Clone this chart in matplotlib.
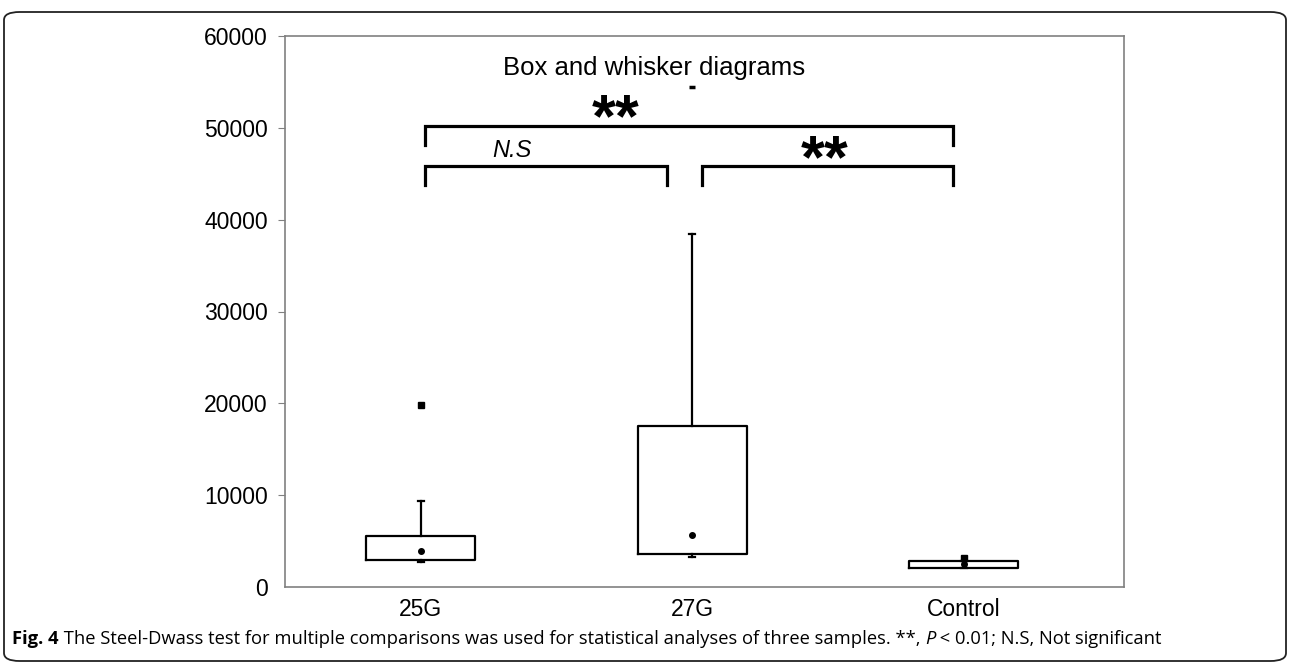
import matplotlib.pyplot as plt
from matplotlib.patches import FancyBboxPatch

# data
groups = ["25G", "27G", "Control"]
q1 = [2900, 3570, 2040]
q3 = [5560, 17490, 2840]
medians = [2950, 3600, 2300]
whisker_low = [2750, 3240, 2040]
whisker_high = [9410, 38480, 2840]
means = [3960, 5670, 2480]
outliers = [[19780], [54400], [3200]]
outlier_marker = ["s", "_", "s"]

# significance brackets: (left group, right group, label)
brackets = [(1, 2, "N.S"), (2, 3, "**"), (1, 3, "**")]

fig = plt.figure(figsize=(12.9, 6.66), dpi=100)
W, H = 1290, 666
ax = fig.add_axes([285 / W, 1 - 587 / H, (1124 - 285) / W, (587 - 36) / H])

stats = []
for i in range(len(groups)):
    stats.append(dict(label=groups[i], q1=q1[i], q3=q3[i], med=medians[i],
                      whislo=whisker_low[i], whishi=whisker_high[i],
                      mean=means[i], fliers=[]))

pos = [1, 2, 3]
ax.bxp(stats, positions=pos, widths=0.4, showmeans=True, showfliers=False,
       capwidths=0.022,
       boxprops=dict(color="black", linewidth=1.6),
       whiskerprops=dict(color="black", linewidth=1.6),
       capprops=dict(color="black", linewidth=1.6),
       medianprops=dict(color="black", linewidth=0),
       meanprops=dict(marker="o", markerfacecolor="black",
                      markeredgecolor="black", markersize=4))

for p, vals, m in zip(pos, outliers, outlier_marker):
    if m == "_":
        ax.plot([p] * len(vals), vals, ls="none", marker=m, color="black",
                markersize=5, markeredgewidth=2.5)
    else:
        ax.plot([p] * len(vals), vals, ls="none", marker=m, color="black",
                markersize=4.5)

ax.set_xlim(0.5, 3.59)
ax.set_ylim(0, 60000)
ax.set_yticks(range(0, 60001, 10000))
ax.set_xticks(pos)
ax.set_xticklabels(groups)

for s in ax.spines.values():
    s.set_color("#808080")
    s.set_linewidth(1.2)
ax.tick_params(axis="y", direction="out", length=5, color="#808080",
               labelsize=16.5, pad=7.5)
ax.tick_params(axis="x", length=0, labelsize=16.5, pad=8)
for lab in ax.get_xticklabels() + ax.get_yticklabels():
    lab.set_fontfamily("Liberation Sans")
ax.yaxis.get_major_ticks()[0].tick1line.set_visible(False)

# brackets
lvl = {(1, 3): (50230, 48110), (1, 2): (45850, 43740), (2, 3): (45850, 43740)}
xoff = {1: 0.015, 2: 0.0, 3: -0.04}
for a, b, lab in brackets:
    top, leg = lvl[(a, b)]
    xa = a + xoff[a] if a != 2 else a + 0.036
    xb = b + xoff[b] if b != 2 else b - 0.092
    ax.plot([xa, xa, xb, xb], [leg, top, top, leg], color="black",
            linewidth=2.3, solid_joinstyle="miter", clip_on=False)

ax.text(1.717, 49110, "**", ha="center", va="baseline", fontsize=44,
        fontweight="bold", family="Liberation Sans")
ax.text(2.489, 44650, "**", ha="center", va="baseline", fontsize=44,
        fontweight="bold", family="Liberation Sans")
ax.text(1.336, 47560, "N.S", ha="center", va="center", fontsize=17,
        style="italic", family="Liberation Sans")

ax.text(1.86, 55800, "Box and whisker diagrams", ha="center", va="baseline",
        fontsize=18.5, family="Liberation Sans")

# rounded frame round the whole figure
frame = FancyBboxPatch((4 / W, 1 - 661 / H), (1286 - 4) / W, (661 - 12) / H,
                       boxstyle="round,pad=0,rounding_size=0.012",
                       transform=fig.transFigure, facecolor="none",
                       edgecolor="#222222", linewidth=1.3)
fig.add_artist(frame)

# caption, pieces written one after another
pieces = [("Fig. 4", "bold", "normal"),
          (" The Steel-Dwass test for multiple comparisons was used for statistical"
           " analyses of three samples. **, ", "normal", "normal"),
          ("P", "normal", "italic"),
          (" < 0.01; N.S, Not significant", "normal", "normal")]
renderer = fig.canvas.get_renderer()
x = 12 / W
y = 1 - 644 / H
for txt, wt, st in pieces:
    t = fig.text(x, y, txt, fontsize=13.2, fontweight=wt, style=st,
                 family="Open Sans", ha="left", va="baseline")
    bb = t.get_window_extent(renderer)
    x = bb.x1 / W

fig.savefig("out.png", dpi=100)
